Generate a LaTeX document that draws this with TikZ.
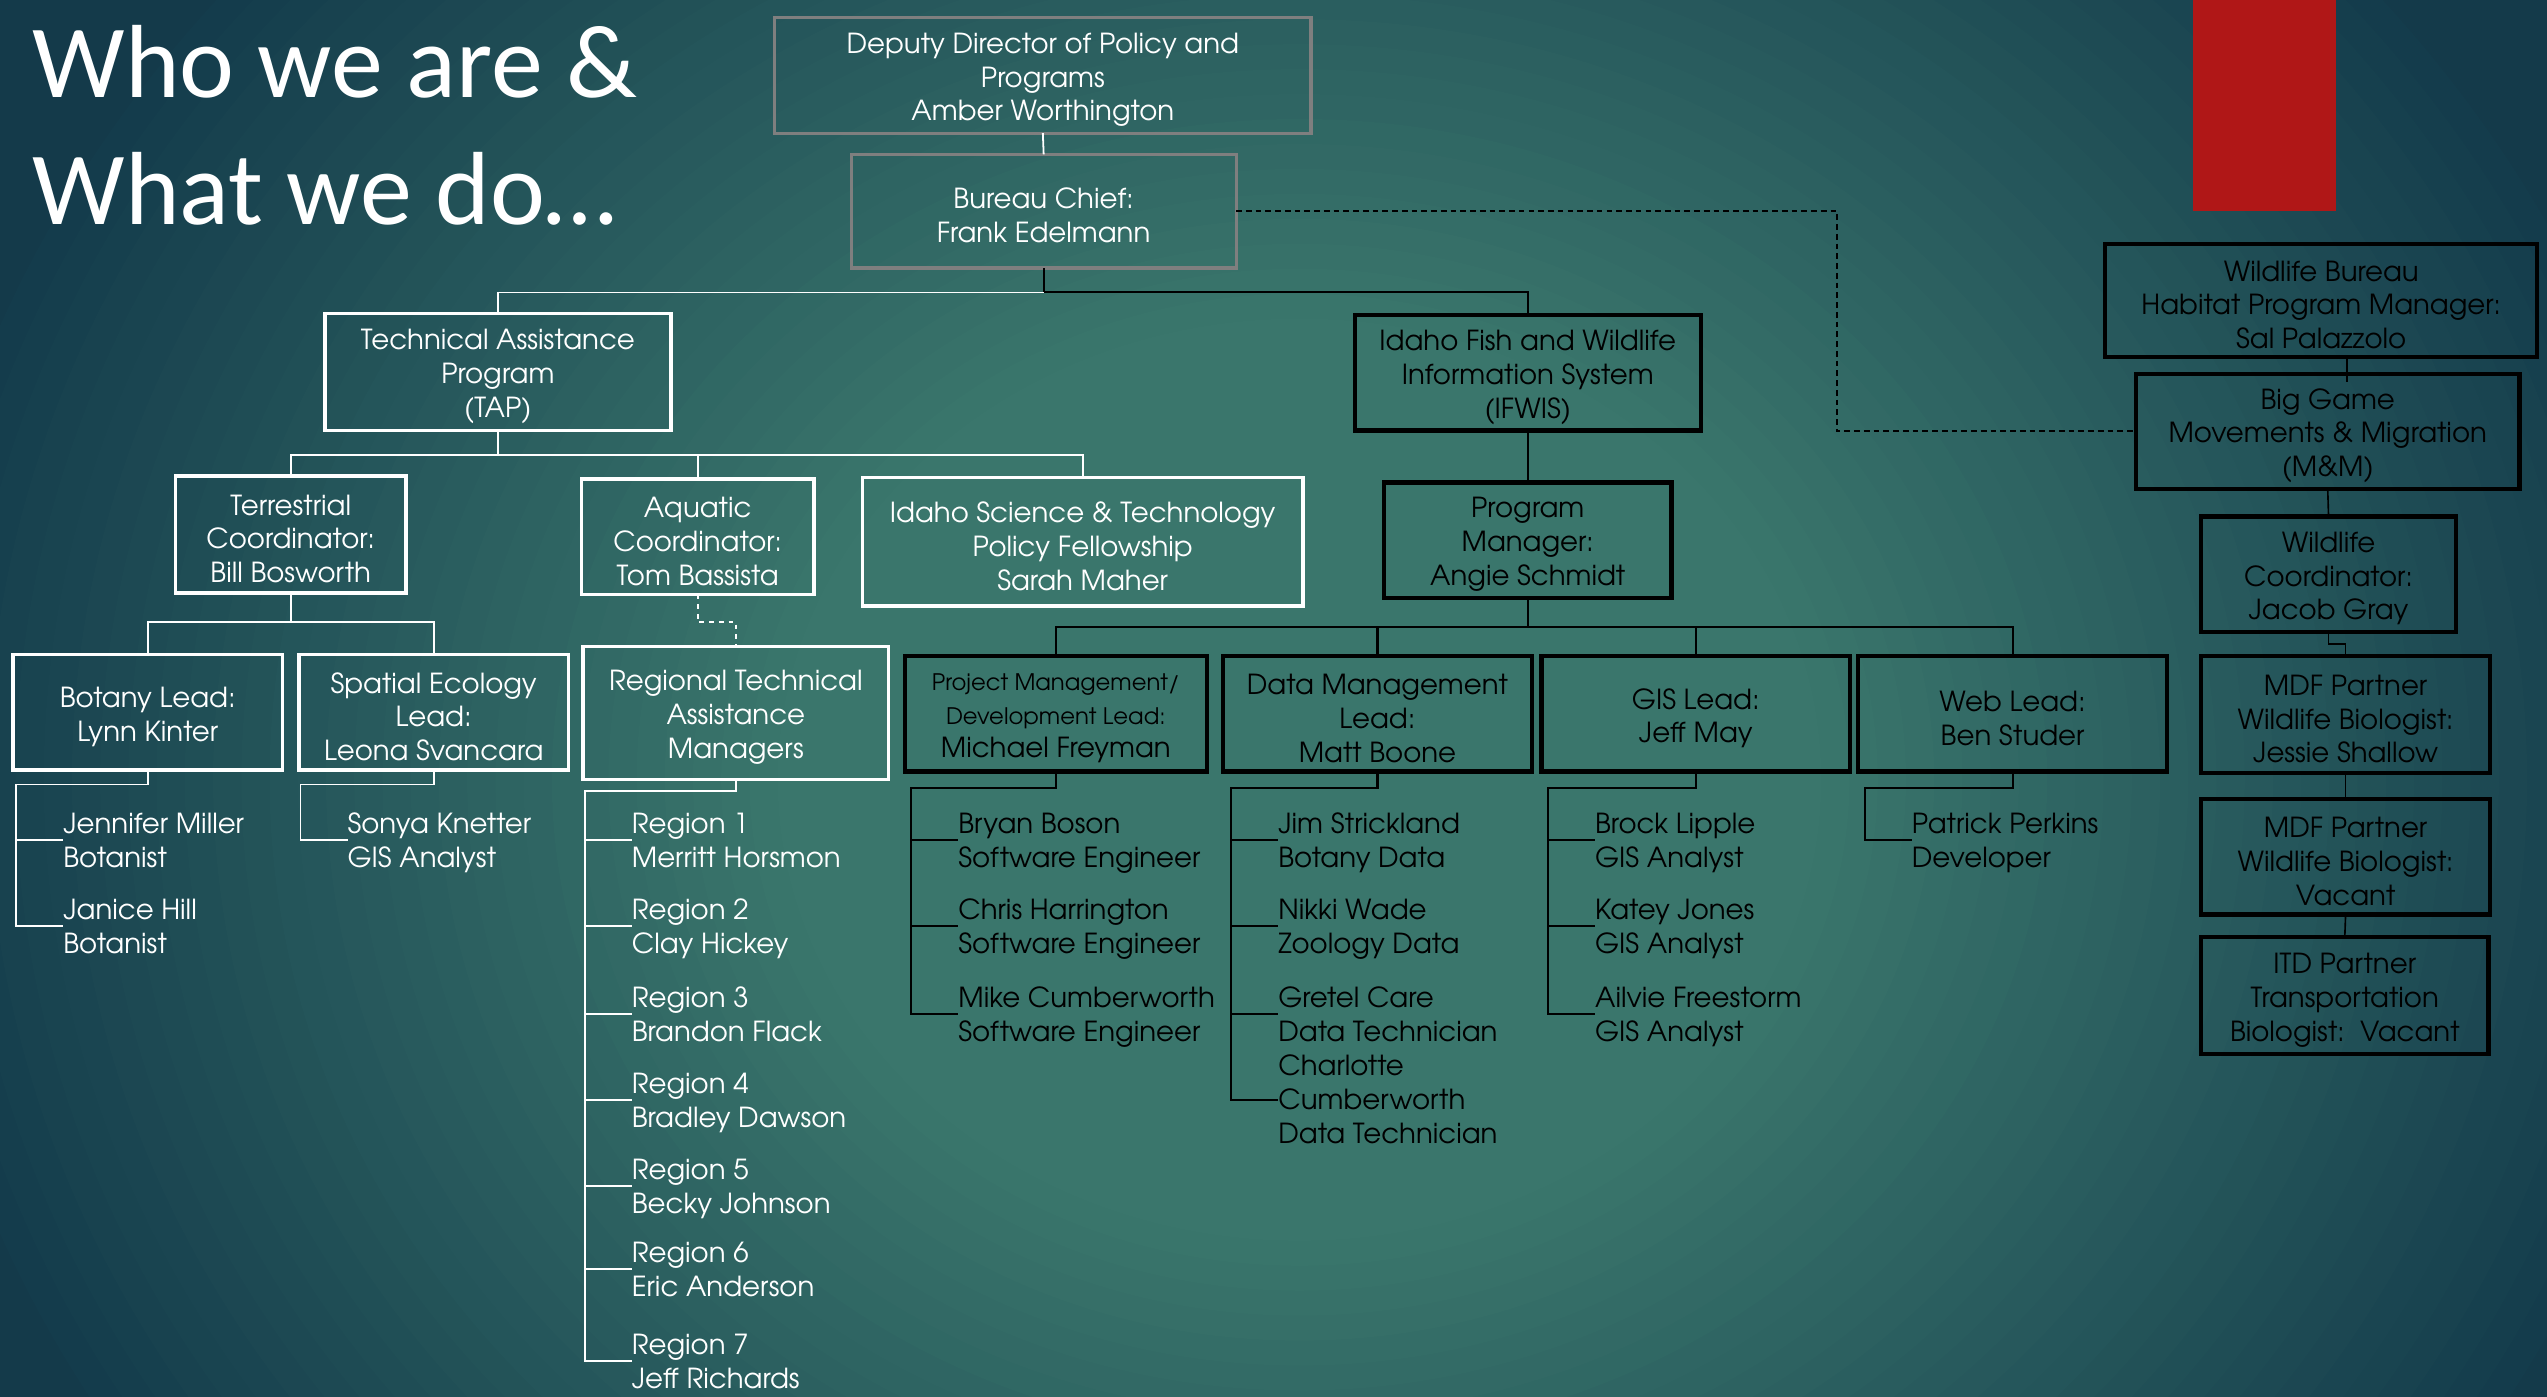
\documentclass[tikz,border=0pt]{standalone}
\usepackage{fontspec}
\newfontfamily\cg{TeX Gyre Adventor}
\newfontfamily\ttl{Carlito}
\usetikzlibrary{calc}

\definecolor{glowin}{HTML}{3A766C}
\definecolor{glowout}{HTML}{143C4C}
\definecolor{bgout}{HTML}{143A4A}
\definecolor{boxgray}{HTML}{7F7F7F}
\definecolor{redbar}{HTML}{B01717}

\newcommand\boxfont{\cg\fontsize{17}{20.8}\selectfont}
\newcommand\smallboxfont{\cg\fontsize{14}{20.8}\selectfont}

% style, name, x, tick y, line1, line2
\newcommand\leaf[6]{%
  \coordinate (#2) at (#3,#4);
  \node[#1] (#2-a) at (#3,#4-4) {#5};
  \node[#1] (#2-b) at (#3,#4+17) {#6};
}
% style, name, x, y (top left), width, height, text
\newcommand\bx[7]{%
  \node[#1, minimum width=#5pt, minimum height=#6pt] (#2) at (#3,#4) {};
  \node[#1text] (#2-t) at ([yshift=-2.7pt]#2.center) {#7};
}

\begin{document}
\begin{tikzpicture}[x=1pt,y=-1pt,
  boxbase/.style={rectangle, inner sep=0pt, outer sep=0pt, anchor=north west},
  wbox/.style={boxbase, draw=white, line width=2.2pt},
  bbox/.style={boxbase, draw=black, line width=2.6pt},
  gbox/.style={boxbase, draw=boxgray, line width=2pt},
  wboxtext/.style={inner sep=0pt, align=center, font=\boxfont, text=white},
  gboxtext/.style={wboxtext},
  bboxtext/.style={wboxtext, text=black},
  wline/.style={draw=white, line width=1.1pt},
  bline/.style={draw=black, line width=1.3pt},
  thinb/.style={draw=black, line width=1pt},
  wdash/.style={draw=white, line width=1.1pt, dash pattern=on 3pt off 3pt},
  bdash/.style={draw=black, line width=1.2pt, dash pattern=on 3.5pt off 2.5pt},
  wleaf/.style={inner sep=0pt, outer sep=0pt, anchor=base west, font=\boxfont, text=white},
  bleaf/.style={wleaf, text=black},
  ttlstyle/.style={inner sep=0pt, outer sep=0pt, anchor=base west, font=\ttl\fontsize{64}{78}\selectfont, text=white}
]
\useasboundingbox (0,0) rectangle (1568,860);
\fill[bgout] (0,0) rectangle (1568,860);
\begin{scope}
  \clip (0,0) rectangle (1568,860);
  \foreach \i in {0,...,48}{
    \pgfmathsetmacro\rr{1-\i/48*0.97}
    \pgfmathsetmacro\pp{min(100,100*(1-\rr)/0.62)}
    \fill[glowin!\pp!glowout] (800,480) ellipse [x radius=\rr*860pt, y radius=\rr*760pt];
  }
\end{scope}

% red bar
\node[fill=redbar, inner sep=0pt, outer sep=0pt, minimum width=88pt, minimum height=130pt, anchor=north west] (red) at (1350,0) {};

% title
\node[ttlstyle] (t1) at (20,60) {Who we are \&};
\node[ttlstyle] (t2) at (20,138.5) {What we do…};

% boxes
\bx{gbox}{dep}{477}{11}{330}{71}{Deputy Director of Policy and\\Programs\\Amber Worthington}
\bx{gbox}{chief}{524}{95}{237}{70}{Bureau Chief:\\Frank Edelmann}
\bx{wbox}{tap}{200}{193}{213}{72}{Technical Assistance\\Program\\(TAP)}
\bx{bbox}{ifwis}{834}{194}{213}{71}{Idaho Fish and Wildlife\\Information System\\(IFWIS)}
\bx{wbox}{terr}{108}{293}{142}{72}{Terrestrial\\Coordinator:\\Bill Bosworth}
\bx{wbox}{aqua}{358}{295}{143}{71}{Aquatic\\Coordinator:\\Tom Bassista}
\bx{wbox}{isci}{531}{294}{271}{79}{Idaho Science \& Technology\\Policy Fellowship\\Sarah Maher}
\bx{bbox}{pm}{852}{297}{177}{71}{Program\\Manager:\\Angie Schmidt}
\bx{wbox}{bot}{8}{403}{166}{71}{Botany Lead:\\Lynn Kinter}
\bx{wbox}{spat}{184}{403}{166}{71}{Spatial Ecology\\Lead:\\Leona Svancara}
\bx{wbox}{rtam}{359}{398}{188}{82}{Regional Technical\\Assistance\\Managers}
\bx{bbox}{pmd}{557}{404}{186}{71}{{\smallboxfont Project Management/}\\{\smallboxfont Development Lead:}\\Michael Freyman}
\bx{bbox}{dm}{753}{404}{190}{71}{Data Management\\Lead:\\Matt Boone}
\bx{bbox}{gis}{949}{404}{190}{71}{GIS Lead:\\Jeff May}
\bx{bbox}{web}{1144}{404}{190}{71}{Web Lead:\\Ben Studer}
\bx{bbox}{wb}{1296}{150}{266}{70}{Wildlife Bureau\\Habitat Program Manager:\\Sal Palazzolo}
\bx{bbox}{bg}{1315}{230}{236}{71}{Big Game\\Movements \& Migration\\(M\&M)}
\bx{bbox}{wc}{1355}{318}{157}{71}{Wildlife\\Coordinator:\\Jacob Gray}
\bx{bbox}{mdf1}{1355}{404}{178}{72}{MDF Partner\\Wildlife Biologist:\\Jessie Shallow}
\bx{bbox}{mdf2}{1355}{492}{178}{71}{MDF Partner\\Wildlife Biologist:\\Vacant}
\bx{bbox}{itd}{1355}{577}{177}{72}{ITD Partner\\Transportation\\Biologist:\ \ Vacant}

% leaves
\leaf{wleaf}{jm}{39}{517}{Jennifer Miller}{Botanist}
\leaf{wleaf}{jh}{39}{570}{Janice Hill}{Botanist}
\leaf{wleaf}{sk}{214}{517}{Sonya Knetter}{GIS Analyst}
\leaf{wleaf}{r1}{389}{517}{Region 1}{Merritt Horsmon}
\leaf{wleaf}{r2}{389}{570}{Region 2}{Clay Hickey}
\leaf{wleaf}{r3}{389}{624}{Region 3}{Brandon Flack}
\leaf{wleaf}{r4}{389}{677}{Region 4}{Bradley Dawson}
\leaf{wleaf}{r5}{389}{730}{Region 5}{Becky Johnson}
\leaf{wleaf}{r6}{389}{781}{Region 6}{Eric Anderson}
\leaf{wleaf}{r7}{389}{838}{Region 7}{Jeff Richards}
\leaf{bleaf}{bb}{590}{517}{Bryan Boson}{Software Engineer}
\leaf{bleaf}{ch}{590}{570}{Chris Harrington}{Software Engineer}
\leaf{bleaf}{mc}{590}{624}{Mike Cumberworth}{Software Engineer}
\leaf{bleaf}{js}{787}{517}{Jim Strickland}{Botany Data}
\leaf{bleaf}{nw}{787}{570}{Nikki Wade}{Zoology Data}
\leaf{bleaf}{gc}{787}{624}{Gretel Care}{Data Technician}
\coordinate (cc) at (787,677);
\node[bleaf] (cc-a) at (787,662) {Charlotte};
\node[bleaf] (cc-b) at (787,683) {Cumberworth};
\node[bleaf] (cc-c) at (787,704) {Data Technician};
\leaf{bleaf}{bl}{982}{517}{Brock Lipple}{GIS Analyst}
\leaf{bleaf}{kj}{982}{570}{Katey Jones}{GIS Analyst}
\leaf{bleaf}{af}{982}{624}{Ailvie Freestorm}{GIS Analyst}
\leaf{bleaf}{pp}{1177}{517}{Patrick Perkins}{Developer}

% connectors: top
\draw[wline] (dep.south) -- (chief.north);
\draw[bline] (chief.south) -- ++(0,15) coordinate (j1) -| (ifwis.north);
\draw[wline] (j1) -| (tap.north);
\coordinate (dk) at (1131,265.5);
\draw[bdash] (chief.east) -| (dk) -- (bg.west);

% TAP branch
\draw[wline] (tap.south) -- ++(0,15) coordinate (j2) -| (terr.north);
\draw[wline] (j2) -| (aqua.north);
\draw[wline] (j2) -| (isci.north);
\draw[wline] (terr.south) -- ++(0,18) coordinate (j3) -| (bot.north);
\draw[wline] (j3) -| (spat.north);
\draw[wdash] (aqua.south) -- ++(0,17) -| (rtam.north);

\draw[wline] (bot.south) -- ++(0,9) -| ([xshift=-29pt]jh) -- (jh);
\draw[wline] ([xshift=-29pt]jm) -- (jm);
\draw[wline] (spat.south) -- ++(0,9) -| ([xshift=-29pt]sk) -- (sk);
\draw[wline] (rtam.south) -- ++(0,7) -| ([xshift=-29pt]r7) -- (r7);
\foreach \n in {r1,r2,r3,r4,r5,r6} \draw[wline] ([xshift=-29pt]\n) -- (\n);

% IFWIS branch
\draw[bline] (ifwis.south) -- (pm.north);
\draw[bline] (pm.south) -- ++(0,18) coordinate (j4) -| (pmd.north);
\draw[bline] (j4) -| (dm.north);
\draw[bline] (j4) -| (gis.north);
\draw[bline] (j4) -| (web.north);

\draw[bline] (pmd.south) -- ++(0,10) -| ([xshift=-29pt]mc) -- (mc);
\foreach \n in {bb,ch} \draw[bline] ([xshift=-29pt]\n) -- (\n);
\draw[bline] (dm.south) -- ++(0,10) -| ([xshift=-29pt]cc) -- (cc);
\foreach \n in {js,nw,gc} \draw[bline] ([xshift=-29pt]\n) -- (\n);
\draw[bline] (gis.south) -- ++(0,10) -| ([xshift=-29pt]af) -- (af);
\foreach \n in {bl,kj} \draw[bline] ([xshift=-29pt]\n) -- (\n);
\draw[bline] (web.south) -- ++(0,10) -| ([xshift=-29pt]pp) -- (pp);

% right column
\draw[thinb] ([xshift=16pt]wb.south) -- ++(0,15);
\draw[thinb] (bg.south) -- (wc.north);
\draw[thinb] (wc.south) -- ++(0,7.5) -| (mdf1.north);
\draw[thinb] (mdf1.south) -- (mdf2.north);
\draw[thinb] (mdf2.south) -- (itd.north);
\end{tikzpicture}
\end{document}
